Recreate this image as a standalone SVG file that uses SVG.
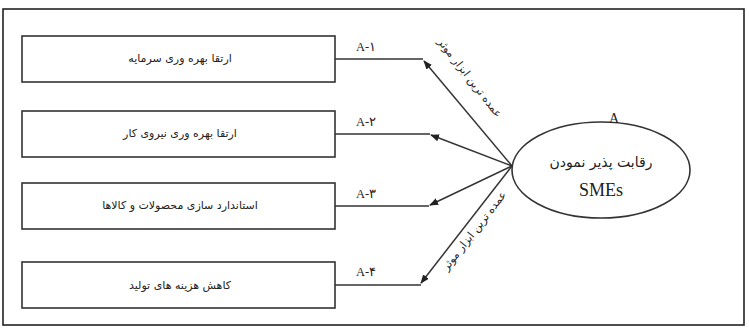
<svg xmlns="http://www.w3.org/2000/svg" width="749" height="328" viewBox="0 0 749 328">
<defs>
<style>
.box{fill:#fff;stroke:#333;stroke-width:1.6}
.fa{font-family:"DejaVu Sans","Noto Sans",sans-serif;font-size:11px;fill:#222;text-anchor:middle}
.lbl{font-family:"Liberation Serif",serif;font-size:12.5px;fill:#222}
.ln{fill:none;stroke:#333;stroke-width:1.5}
</style>
<marker id="ah" viewBox="0 0 10 10" refX="9" refY="5" markerWidth="6" markerHeight="6" orient="auto-start-reverse">
<path d="M0,1 L10,5 L0,9 z" fill="#222"/>
</marker>
</defs>
<rect x="0" y="0" width="749" height="328" fill="#fff"/>
<rect x="3" y="9" width="741" height="316" fill="none" stroke="#222" stroke-width="1.6"/>
<g id="connectors">
<path class="ln" d="M335,59 L423,59"/>
<path class="ln" d="M512,166 L424,61" marker-end="url(#ah)"/>
<path class="ln" d="M335,134 L430,134"/>
<path class="ln" d="M512,166 L431,135" marker-end="url(#ah)"/>
<path class="ln" d="M335,206 L429,206"/>
<path class="ln" d="M512,166 L430,205" marker-end="url(#ah)"/>
<path class="ln" d="M335,285 L421,285"/>
<path class="ln" d="M512,166 L421,283" marker-end="url(#ah)"/>
<text class="lbl" x="356" y="51">A-۱</text>
<text class="lbl" x="356" y="126">A-۲</text>
<text class="lbl" x="356" y="198">A-۳</text>
<text class="lbl" x="356" y="276">A-۴</text>
<text class="fa" transform="translate(467,80) rotate(52)">عمده ترین ابزار موثر</text>
<text class="fa" transform="translate(477,233) rotate(-52)">عمده ترین ابزار موثر</text>
</g>
<g id="n1"><rect class="box" x="22" y="36" width="313" height="46"/><text class="fa" x="180" y="62">ارتقا بهره وری سرمایه</text></g>
<g id="n2"><rect class="box" x="22" y="111" width="313" height="46"/><text class="fa" x="180" y="137">ارتقا بهره وری نیروی کار</text></g>
<g id="n3"><rect class="box" x="22" y="183" width="313" height="46"/><text class="fa" x="180" y="209">استاندارد سازی محصولات و کالاها</text></g>
<g id="n4"><rect class="box" x="22" y="262" width="313" height="46"/><text class="fa" x="180" y="289">کاهش هزینه های تولید</text></g>
<g id="nA">
<ellipse cx="601" cy="170" rx="89" ry="48" fill="#fff" stroke="#333" stroke-width="1.6"/>
<text class="lbl" x="614" y="123" text-anchor="middle" style="font-size:14px">A</text>
<text class="fa" x="601" y="167" style="font-size:14px">رقابت پذیر نمودن</text>
<text class="lbl" x="601" y="196" text-anchor="middle" style="font-size:18px">SMEs</text>
</g>
</svg>
